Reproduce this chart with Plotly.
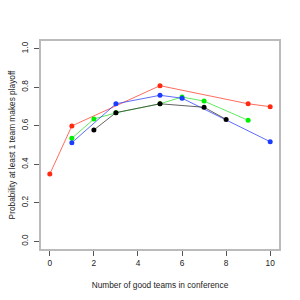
import plotly.graph_objects as go

red_x = [0, 1, 5, 9, 10]
red_y = [0.349, 0.599, 0.808, 0.714, 0.699]
green_x = [1, 2, 3, 5, 6, 7, 9]
green_y = [0.535, 0.635, 0.667, 0.714, 0.749, 0.728, 0.628]
blue_x = [1, 3, 5, 6, 10]
blue_y = [0.512, 0.714, 0.758, 0.743, 0.517]
black_x = [2, 3, 5, 7, 8]
black_y = [0.578, 0.668, 0.714, 0.696, 0.633]

x_ticks = [0, 2, 4, 6, 8, 10]
y_ticks = [0.0, 0.2, 0.4, 0.6, 0.8, 1.0]
y_tick_labels = ["0.0", "0.2", "0.4", "0.6", "0.8", "1.0"]

series = [
    (red_x, red_y, "rgba(255,60,40,0.75)", "#ff2a10"),
    (green_x, green_y, "rgba(40,230,40,0.75)", "#00ee00"),
    (blue_x, blue_y, "rgba(40,60,255,0.75)", "#1a3cff"),
    (black_x, black_y, "rgba(60,60,60,0.8)", "#000000"),
]

fig = go.Figure()
for xs, ys, lc, mc in series:
    fig.add_trace(go.Scatter(
        x=xs, y=ys, mode="lines+markers",
        line=dict(color=lc, width=1),
        marker=dict(color=mc, size=5),
        showlegend=False, hoverinfo="skip",
    ))

font = dict(family="Liberation Sans, Arial, sans-serif", size=8.3, color="#222")

fig.update_layout(
    width=300, height=300,
    margin=dict(l=41, r=21, t=41, b=51),
    paper_bgcolor="white", plot_bgcolor="white",
    font=font,
    xaxis=dict(
        range=[-0.4, 10.4], tickvals=x_ticks, ticktext=[str(v) for v in x_ticks],
        showgrid=False, zeroline=False, automargin=False,
        showline=True, mirror=True, linecolor="#bbbbbb", linewidth=2,
        ticks="outside", ticklen=5, tickcolor="#555", tickwidth=1,
        title=dict(text="Number of good teams in conference", standoff=15, font=font),
        tickfont=font,
    ),
    yaxis=dict(
        range=[-0.04, 1.04], tickvals=y_ticks, ticktext=y_tick_labels,
        showgrid=False, zeroline=False, automargin=False,
        showline=True, mirror=True, linecolor="#bbbbbb", linewidth=2,
        ticks="outside", ticklen=5, tickcolor="#555", tickwidth=1,
        tickangle=-90, ticklabelstandoff=3,
        title=dict(text="Probability at least 1 team makes playoff", standoff=3, font=font),
        tickfont=font,
    ),
)

fig.write_html("out.html")
